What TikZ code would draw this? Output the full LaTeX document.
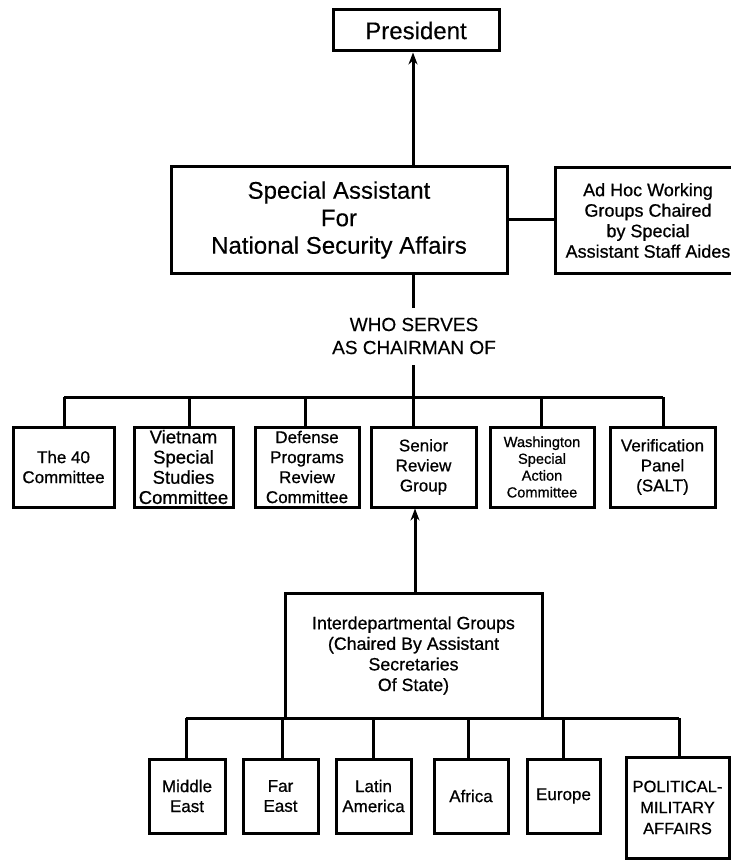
\documentclass[tikz,border=0pt]{standalone}
\usepackage{fontspec}
\setmainfont{Liberation Sans}[FakeBold=0.3]
\newfontfamily\medfont{Liberation Sans}[FakeBold=0.7]
\usetikzlibrary{arrows.meta}
\begin{document}
\begin{tikzpicture}[x=1pt,y=1pt,
  box/.style={draw, line width=3pt, align=center, inner sep=0pt},
  conn/.style={line width=3pt},
  uparrow/.style={line width=3pt, -{Stealth[length=12pt,width=9pt]}},
  fa/.style={font=\fontsize{24}{27.5}\selectfont\bfseries},
  fb/.style={font=\medfont\fontsize{18}{20.5}\selectfont},
  fc/.style={font=\medfont\fontsize{17}{20}\selectfont},
  fd/.style={font=\medfont\fontsize{14.6}{16.8}\selectfont}]
\useasboundingbox (0,0) rectangle (730,-861);
\fill[white] (0,0) rectangle (730,-861);

% top level
\node[box, font=\fontsize{24}{27.5}\selectfont, minimum width=166, minimum height=41] (pres) at (416,-30.5) {President};
\node[box, font=\fontsize{24}{27.5}\selectfont, minimum width=336, minimum height=106] (sa) at (339,-220) {Special Assistant\\For\\National Security Affairs};
\node[box, fb, minimum width=186, minimum height=105] (adhoc) at (648,-220.5) {Ad Hoc Working\\Groups Chaired\\by Special\\Assistant Staff Aides};
\node[font=\fontsize{19}{23}\selectfont, align=center] (who) at (414,-336) {WHO SERVES\\AS CHAIRMAN OF};

\coordinate (up) at (413,-167);
\draw[uparrow] (up) -- (up |- pres.south);
\draw[conn] (sa.east |- 0,-219) -- (adhoc.west |- 0,-219);

% committees
\node[box, fc, minimum width=101, minimum height=80] (c1) at (63.5,-467) {The 40\\Committee};
\node[box, font=\medfont\fontsize{18.5}{20.2}\selectfont, minimum width=99, minimum height=80] (c2) at (183.5,-467) {Vietnam\\Special\\Studies\\Committee};
\node[box, fc, minimum width=104, minimum height=80] (c3) at (307,-467) {Defense\\Programs\\Review\\Committee};
\node[box, fc, minimum width=105, minimum height=80] (c4) at (423.5,-467) {Senior\\Review\\Group};
\node[box, fd, minimum width=104, minimum height=80] (c5) at (542,-467) {Washington\\Special\\Action\\Committee};
\node[box, fc, minimum width=105, minimum height=80] (c6) at (662.5,-467) {Verification\\Panel\\(SALT)};

\coordinate (t1) at (413,-308);
\coordinate (t2) at (413,-365);
\coordinate (bL) at (64,-397);
\coordinate (bR) at (663,-397);
\coordinate (d2) at (189,-397);
\coordinate (d3) at (305,-397);
\coordinate (d4) at (413,-397);
\coordinate (d5) at (541,-397);
\draw[conn] (sa.south -| t1) -- (t1);
\draw[conn] (t2) -- (d4);
\draw[conn] (bL) -- (bR);
\draw[conn] (bL) -- (bL |- c1.north);
\draw[conn] (d2) -- (d2 |- c2.north);
\draw[conn] (d3) -- (d3 |- c3.north);
\draw[conn] (d4) -- (d4 |- c4.north);
\draw[conn] (d5) -- (d5 |- c5.north);
\draw[conn] (bR) -- (bR |- c6.north);

% interdepartmental
\node[box, font=\medfont\fontsize{17.8}{20.6}\selectfont, minimum width=257, minimum height=125] (idg) at (413.5,-655.5) {Interdepartmental Groups\\(Chaired By Assistant\\Secretaries\\Of State)};
\coordinate (ua) at (415,-593);
\draw[uparrow] (ua) -- (ua |- c4.south);

% regions
\node[box, fc, minimum width=76, minimum height=74] (r1) at (187,-796) {Middle\\East};
\node[box, fc, minimum width=75, minimum height=74] (r2) at (280.5,-796) {Far\\East};
\node[box, fc, minimum width=75, minimum height=74] (r3) at (373.5,-796) {Latin\\America};
\node[box, fc, minimum width=74, minimum height=74] (r4) at (471,-796) {Africa};
\node[box, fc, minimum width=73, minimum height=74] (r5) at (563.5,-796) {Europe};
\node[box, font=\medfont\fontsize{16.5}{21}\selectfont, minimum width=103, minimum height=101] (r6) at (677.5,-807.5) {POLITICAL-\\MILITARY\\AFFAIRS};

\coordinate (eL) at (186,-718);
\coordinate (eR) at (679,-718);
\coordinate (e2) at (282,-718);
\coordinate (e3) at (373,-718);
\coordinate (e4) at (468,-718);
\coordinate (e5) at (563,-718);
\draw[conn] (eL) -- (eR);
\draw[conn] (eL) -- (eL |- r1.north);
\draw[conn] (e2) -- (e2 |- r2.north);
\draw[conn] (e3) -- (e3 |- r3.north);
\draw[conn] (e4) -- (e4 |- r4.north);
\draw[conn] (e5) -- (e5 |- r5.north);
\draw[conn] (eR) -- (eR |- r6.north);
\end{tikzpicture}
\end{document}
